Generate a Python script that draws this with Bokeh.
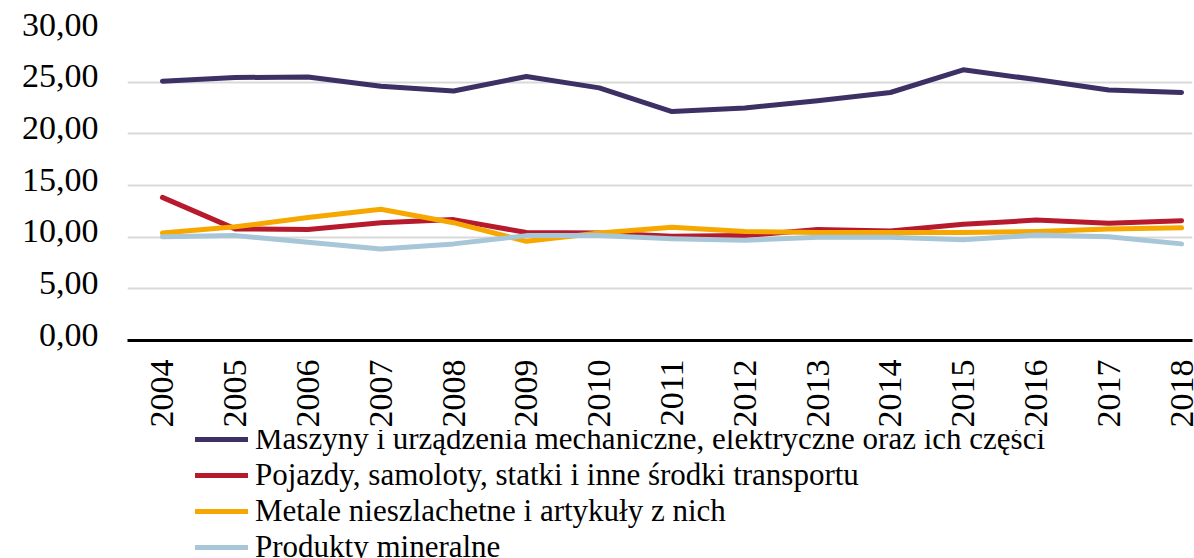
from bokeh.plotting import figure
from bokeh.layouts import column
from bokeh.models import FixedTicker, CustomJSTickFormatter, Legend, LegendItem, Range1d
from bokeh.embed import file_html
from bokeh.resources import INLINE
import math

years = [2004, 2005, 2006, 2007, 2008, 2009, 2010, 2011, 2012, 2013, 2014, 2015, 2016, 2017, 2018]
maszyny = [25.1, 25.45, 25.5, 24.6, 24.15, 25.55, 24.45, 22.15, 22.5, 23.2, 24.0, 26.2, 25.25, 24.25, 24.0]
pojazdy = [13.85, 10.8, 10.75, 11.4, 11.7, 10.45, 10.4, 10.1, 10.15, 10.75, 10.6, 11.25, 11.65, 11.35, 11.6]
metale = [10.4, 11.0, 11.9, 12.7, 11.4, 9.6, 10.4, 10.95, 10.55, 10.45, 10.45, 10.45, 10.55, 10.8, 10.9]
mineralne = [10.05, 10.15, 9.5, 8.85, 9.35, 10.15, 10.15, 9.85, 9.7, 10.0, 10.0, 9.75, 10.2, 10.05, 9.35]

names = [
    "Maszyny i urządzenia mechaniczne, elektryczne oraz ich części",
    "Pojazdy, samoloty, statki i inne środki transportu",
    "Metale nieszlachetne i artykuły z nich",
    "Produkty mineralne",
]
series = [maszyny, pojazdy, metale, mineralne]
colors = ["#3c3064", "#b71a2c", "#f6a800", "#a7c6d8"]
yticks = [0, 5, 10, 15, 20, 25, 30]

FONT = "Liberation Serif"

p = figure(width=1194, height=430, output_backend="svg", toolbar_location=None,
           x_range=Range1d(2003.52, 2018.15), y_range=Range1d(0, 30),
           min_border_left=127, min_border_right=2, min_border_top=30, min_border_bottom=90)
p.outline_line_color = None
p.xgrid.grid_line_color = None
p.ygrid.grid_line_color = "#d9d9d9"
p.ygrid.grid_line_width = 2

for vals, c in zip(series, colors):
    p.line(years, vals, line_color=c, line_width=5, line_cap="round", line_join="round")

# y axis (label lifted a little above its grid line, as in the original)
p.yaxis.ticker = FixedTicker(ticks=yticks)
p.yaxis.formatter = CustomJSTickFormatter(code="return tick.toFixed(2).replace('.', ',') + '\\n';")
p.yaxis.axis_line_color = None
p.yaxis.major_tick_line_color = None
p.yaxis.minor_tick_line_color = None
p.yaxis.major_label_standoff = 23
p.yaxis.major_label_text_font = FONT
p.yaxis.major_label_text_font_size = "34px"
p.yaxis.major_label_text_line_height = 0.35
p.yaxis.major_label_text_color = "#000000"

# x axis
p.xaxis.ticker = FixedTicker(ticks=years)
p.xaxis.axis_line_color = "#000000"
p.xaxis.axis_line_width = 3
p.xaxis.major_tick_line_color = None
p.xaxis.minor_tick_line_color = None
p.xaxis.major_label_orientation = math.pi / 2
p.xaxis.major_label_standoff = 13
p.xaxis.major_label_text_font = FONT
p.xaxis.major_label_text_font_size = "34px"
p.xaxis.major_label_text_color = "#000000"

# legend figure below
lg = figure(width=1194, height=128, output_backend="svg", toolbar_location=None,
            x_range=Range1d(0, 1), y_range=Range1d(0, 1),
            min_border_left=0, min_border_right=0, min_border_top=0, min_border_bottom=0)
lg.axis.visible = False
lg.grid.visible = False
lg.outline_line_color = None
lrs = []
for vals, c in zip(series, colors):
    lrs.append(lg.line(years, vals, line_color=c, line_width=5, line_cap="round"))

items = [LegendItem(label=n, renderers=[r]) for n, r in zip(names, lrs)]
legend = Legend(items=items, location=(68, -7), orientation="vertical",
                label_text_font=FONT, label_text_font_size="31px", label_text_color="#000000",
                glyph_width=53, glyph_height=30, label_height=30, label_standoff=7,
                spacing=0, padding=0, margin=0,
                border_line_color=None, background_fill_alpha=0)
lg.add_layout(legend, "center")

layout = column(p, lg, spacing=0)
open("out.html", "w").write(file_html(layout, INLINE))
